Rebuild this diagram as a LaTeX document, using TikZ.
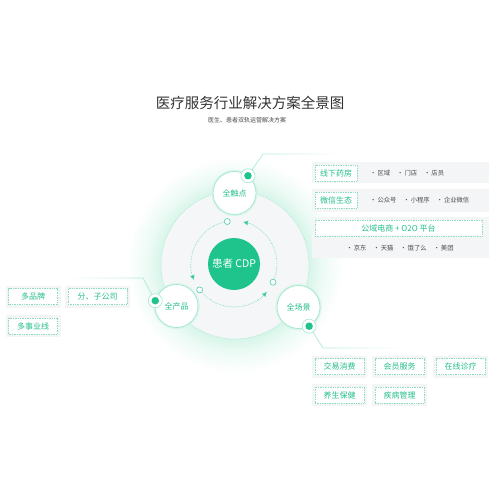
\documentclass[tikz,border=0pt]{standalone}
\usepackage{fontspec}
\setmainfont{Noto Sans CJK SC}
\usepackage{xcolor}
\usepackage{tikz}
\usetikzlibrary{arrows.meta,calc,fadings,shadows}
\definecolor{cdpgreen}{HTML}{1FC48D}
\definecolor{tagtext}{HTML}{25BE8B}
\definecolor{tagline}{HTML}{8FDDC0}
\definecolor{linkgreen}{HTML}{A6E8CF}
\definecolor{ringgray}{HTML}{F5F6F8}
\definecolor{panelgray}{HTML}{F4F5F7}
\definecolor{glowgreen}{HTML}{D6F5E9}
\definecolor{glowmid}{HTML}{EBFAF4}
\definecolor{titlegray}{HTML}{333333}
\definecolor{itemgray}{HTML}{4A4A4A}
\pgfdeclareradialshading{glow}{\pgfpointorigin}{color(0bp)=(glowgreen); color(17bp)=(glowgreen); color(20bp)=(glowmid); color(25bp)=(white); color(50bp)=(white)}
\tikzset{
  hub/.style={circle,draw=linkgreen,line width=0.8pt,fill=white,minimum size=43,inner sep=0,
    text=tagtext,font=\fontsize{8}{9}\selectfont,
    drop shadow={shadow xshift=0,shadow yshift=0,shadow scale=1.08,fill=glowgreen,opacity=0.8}},
  cdpnode/.style={circle,fill=cdpgreen,minimum size=52,inner sep=0,text=white,font=\fontsize{10.5}{12}\selectfont},
  tag/.style={draw=tagline,densely dotted,line width=0.7pt,fill=white,text=tagtext,
    minimum width=49,minimum height=16,inner sep=0,font=\fontsize{8}{9}\selectfont,
    preaction={draw=panelgray,line width=6pt,solid}},
  toptag/.style={draw=tagline,densely dotted,line width=0.7pt,fill=white,text=tagtext,
    minimum width=42,minimum height=16,inner sep=0,font=\fontsize{8}{9}\selectfont},
  items/.style={text=itemgray,inner sep=0,font=\fontsize{6.3}{7}\selectfont},
  ring/.style={draw=linkgreen,densely dotted,line width=0.7pt},
  flow/.style={draw=cdpgreen!70,densely dotted,line width=0.6pt,-{Latex[length=5pt,width=5pt,fill=cdpgreen]}},
  openring/.style={circle,draw=cdpgreen!80,fill=white,line width=0.6pt,minimum size=6,inner sep=0},
  pinring/.style={circle,draw=linkgreen,line width=0.6pt,fill=white,minimum size=14,inner sep=0},
  pindot/.style={circle,fill=cdpgreen,minimum size=7.5,inner sep=0},
  link/.style={draw=linkgreen,line width=0.7pt}
}
\begin{document}
\begin{tikzpicture}[x=1pt,y=1pt]
\useasboundingbox (0,0) rectangle (500,-500);
\fill[white] (0,0) rectangle (500,-500);

\node[text=titlegray,font=\fontsize{14.5}{16}\selectfont] (title) at (250,-103) {医疗服务行业解决方案全景图};
\node[text=itemgray,font=\fontsize{6}{7}\selectfont] (subtitle) at (247,-120) {医生、患者双轨运营解决方案};

% glow and ring
\shade[shading=glow] (235,-265) circle (108);
\fill[ringgray] (235,-265) circle (74);
\draw[ring] (235,-265) circle (74);

\node[cdpnode] (cdp) at (234,-264) {患者 CDP};
\foreach \a in {99,217,335}{
  \draw[flow] (cdp.center) ++(\a:43) arc[start angle=\a,delta angle=103,radius=43];
  \node[openring] (open\a) at ($(cdp.center)+(\a:43)$) {};
}

\node[hub] (touch) at (234.5,-193) {全触点};
\node[hub] (product) at (176.5,-306) {全产品};
\node[hub] (scene) at (298.5,-307) {全场景};

% connectors
\coordinate (tbend) at (263,-154);
\coordinate (tend) at (340,-154);
\coordinate (pbend) at (143,-278);
\coordinate (pend) at (68,-278);
\coordinate (sbend) at (323,-348);
\coordinate (send) at (400,-348);
\draw[link,path fading=east] (touch.52) -- (tbend) -- (tend);
\draw[link,path fading=west] (product.166) -- (pbend) -- (pend);
\draw[link,path fading=east] (scene.-61) -- (sbend) -- (send);
\node[pinring] (tring) at (touch.52) {};
\node[pindot] (tdot) at (touch.52) {};
\node[pinring] (pring) at (product.166) {};
\node[pindot] (pdot) at (product.166) {};
\node[pinring] (sring) at (scene.-61) {};
\node[pindot] (sdot) at (scene.-61) {};

% touch points
\fill[panelgray] (312,-162) rectangle (489,-183);
\fill[panelgray] (312,-189) rectangle (489,-212);
\fill[panelgray] (312,-217) rectangle (489,-258);
\node[toptag] (offline) at (336,-173) {线下药房};
\node[items,anchor=west] (offitems) at (370,-173) {·\,区域\hspace{7pt}·\,门店\hspace{7pt}·\,店员};
\node[toptag] (wechat) at (336,-200) {微信生态};
\node[items,anchor=west] (wxitems) at (370,-200) {·\,公众号\hspace{7pt}·\,小程序\hspace{7pt}·\,企业微信};
\node[toptag,minimum width=167] (mall) at (398.5,-228) {公域电商 + O2O 平台};
\node[items] (mallitems) at (400,-248) {·\,京东\hspace{7pt}·\,天猫\hspace{7pt}·\,饿了么\hspace{7pt}·\,美团};

% products
\node[tag] (brand) at (33,-296.5) {多品牌};
\node[tag,minimum width=59] (branch) at (97.5,-296.5) {分、子公司};
\node[tag] (line) at (33,-326) {多事业线};

% scenes
\node[tag] (trade) at (339.5,-366.5) {交易消费};
\node[tag] (member) at (399.5,-366.5) {会员服务};
\node[tag] (online) at (460.5,-366.5) {在线诊疗};
\node[tag] (health) at (339.5,-395) {养生保健};
\node[tag] (disease) at (399.5,-395) {疾病管理};
\end{tikzpicture}
\end{document}
